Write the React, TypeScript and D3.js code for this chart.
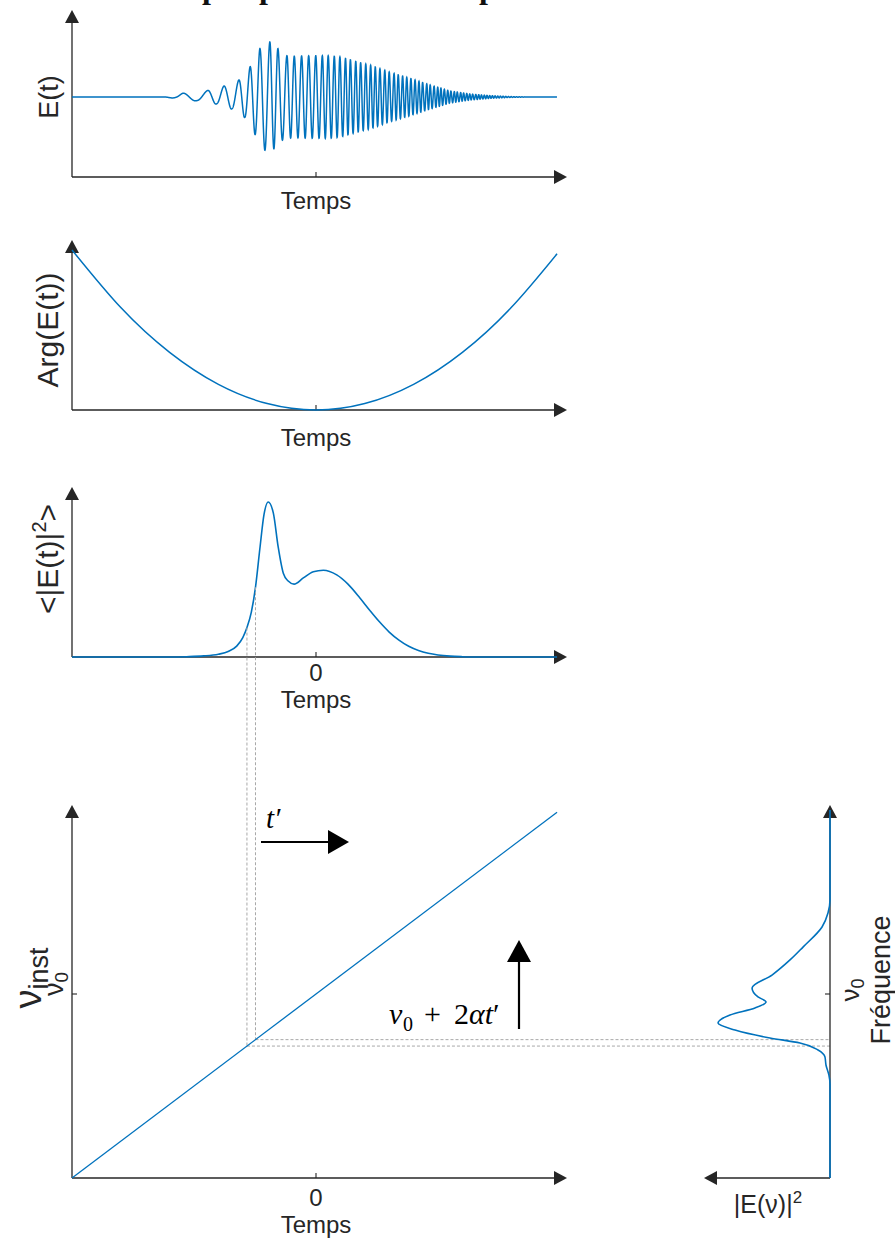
import React from 'react';
import * as d3 from 'd3';

// ---------- data ----------
// time axis unit: arbitrary, 0 at the central tick
const crestT = [-54.5, -44.3, -37.7, -31.6, -27.0, -23.0, -18.9, -15.6, -11.9, -8.9, -5.9, -3.0, -0.1, 2.6, 5.0, 7.5, 9.8, 12.1, 14.1, 16.3, 18.3, 20.4, 22.4, 24.3, 26.2, 28.2, 30.0, 32.0, 33.7, 35.5, 37.2, 38.9, 40.6, 42.2, 43.7, 45.4, 46.8, 48.4, 49.9, 51.2, 52.6, 54.0, 55.3, 56.7, 57.9, 59.3, 60.5, 61.8, 63.0, 64.2, 65.5, 66.7, 67.8, 69.0, 70.1, 71.2, 72.3, 73.4];
const envT = [-100, -62, -57, -54.5, -48.8, -44.3, -40.6, -37.7, -34.4, -31.6, -29.1, -27, -24.6, -23, -20.9, -18.9, -17.2, -15.6, -13.9, -11.9, -8.6, -2.5, 5.7, 9.8, 16.8, 22.1, 30.3, 38.5, 46.7, 54.9, 63.1, 71.3, 79.5, 88, 98.8];
const envA = [0, 0, 0.03, 0.07, 0.07, 0.12, 0.13, 0.2, 0.22, 0.31, 0.38, 0.55, 0.71, 0.88, 0.97, 1.0, 0.94, 0.88, 0.79, 0.75, 0.74, 0.75, 0.75, 0.73, 0.64, 0.58, 0.45, 0.34, 0.22, 0.11, 0.055, 0.025, 0.008, 0, 0];

const argT = [-100, -80, -60, -40, -20, 0, 20, 40, 60, 80, 98.8];
const argV = [1, 0.64, 0.36, 0.16, 0.04, 0, 0.04, 0.16, 0.36, 0.64, 0.976];

const intT = [-100, -60, -53, -46, -40, -36, -32.5, -30, -28.3, -26.5, -24.8, -23, -21.3, -19.6, -17.5, -15.5, -13.4, -11.4, -9, -5.2, -1.1, 3, 8.5, 13, 18, 22, 26, 30, 34, 38, 42, 46, 50, 55, 60, 66, 98.8];
const intV = [0, 0, 0.002, 0.007, 0.018, 0.035, 0.07, 0.125, 0.19, 0.29, 0.45, 0.7, 0.92, 1.0, 0.93, 0.71, 0.54, 0.49, 0.47, 0.51, 0.55, 0.56, 0.53, 0.472, 0.381, 0.302, 0.227, 0.161, 0.109, 0.069, 0.042, 0.024, 0.013, 0.0055, 0.002, 0, 0];

const chirpT = [-100, 98.8];
const chirpNu = [-1, 0.988];

const specNu = [1.0, 0.511, 0.44, 0.364, 0.255, 0.185, 0.103, 0.033, -0.016, -0.043, -0.076, -0.114, -0.158, -0.196, -0.239, -0.266, -0.304, -0.342, -0.386, -0.44, -0.49, -1.0];
const specP = [0, 0, 0.018, 0.071, 0.241, 0.357, 0.518, 0.696, 0.643, 0.571, 0.67, 0.893, 1.0, 0.848, 0.536, 0.268, 0.107, 0.045, 0.036, 0.01, 0, 0];

const markT = [-28.3, -24.8];

const timeTickValues = [0];
const timeTickLabels = ['0'];
const xLabel = 'Temps';

// ---------- styling ----------
const AX = '#262626';
const BLUE = '#0072BD';
const SANS = '"Liberation Sans", Arial, Helvetica, sans-serif';
const SERIF = '"Liberation Serif", "DejaVu Serif", serif';

const x = d3.scaleLinear().domain([-100, 100]).range([72, 560]);
const X0 = 72;
const XTIP = 567;

const y1 = d3.scaleLinear().domain([-1, 1]).range([152, 42]);
const y2 = d3.scaleLinear().domain([0, 1]).range([410, 250]);
const y3 = d3.scaleLinear().domain([0, 1]).range([657, 502]);
const yNu = d3.scaleLinear().domain([-1, 1]).range([1178, 810]);
const xP = d3.scaleLinear().domain([0, 1]).range([830, 718]);

const envF = d3.scaleLinear().domain(envT).range(envA).clamp(true);
const phaseF = d3.scaleLinear().domain(crestT).range(crestT.map((_, i) => i));
const intF = d3.scaleLinear().domain(intT).range(intV).clamp(true);
const chirpF = d3.scaleLinear().domain(chirpT).range(chirpNu);

function Axes({ axisY, top, tick = true }: { axisY: number; top: number; tick?: boolean }) {
  return (
    <g>
      <line x1={X0} y1={axisY} x2={X0} y2={top + 10} stroke={AX} strokeWidth={1.3} />
      <polygon points={`${X0},${top} ${X0 - 7},${top + 13} ${X0 + 7},${top + 13}`} fill={AX} />
      <line x1={X0} y1={axisY} x2={XTIP - 10} y2={axisY} stroke={AX} strokeWidth={1.3} />
      <polygon points={`${XTIP},${axisY} ${XTIP - 13},${axisY - 7} ${XTIP - 13},${axisY + 7}`} fill={AX} />
      {tick && timeTickValues.map((v) => (
        <line key={v} x1={x(v)} x2={x(v)} y1={axisY} y2={axisY - 5} stroke={AX} strokeWidth={1.1} />
      ))}
    </g>
  );
}

function RotLabel({ cx, cy, children, size = 25 }: any) {
  return (
    <text transform={`translate(${cx},${cy}) rotate(-90)`} textAnchor="middle" fontFamily={SANS} fontSize={size} fill={AX}>
      {children}
    </text>
  );
}

export default function App() {
  const samples: number[] = d3.range(-100, 98.8, 0.04);
  const wave = d3.line<number>().x((t) => x(t)).y((t) => y1(envF(t) * Math.cos(2 * Math.PI * phaseF(t))))(samples) as string;

  const argPath = d3.line<number>().x((_, i) => x(argT[i])).y((v) => y2(v)).curve(d3.curveNatural)(argV) as string;
  const intPath = d3.line<number>().x((_, i) => x(intT[i])).y((v) => y3(v)).curve(d3.curveMonotoneX)(intV) as string;
  const chirpPath = d3.line<number>().x((_, i) => x(chirpT[i])).y((v) => yNu(v))(chirpNu) as string;
  const specPath = d3.line<number>().x((p) => xP(p)).y((_, i) => yNu(specNu[i])).curve(d3.curveMonotoneY)(specP) as string;

  return (
    <svg width={895} height={1240} style={{ position: 'absolute', left: 0, top: 0, background: '#fff' }} xmlns="http://www.w3.org/2000/svg">
      {/* cut-off caption descenders at the very top */}
      <g fontFamily={SERIF} fontWeight="bold" fontSize={32} fill="#111">
        <text x={202} y={-2}>p</text>
        <text x={259} y={-2}>p</text>
        <text x={479} y={-2}>p</text>
      </g>

      {/* Panel 1: E(t) */}
      <Axes axisY={177} top={10} />
      <path d={wave} fill="none" stroke={BLUE} strokeWidth={1.5} />
      <text x={x(0)} y={209} textAnchor="middle" fontFamily={SANS} fontSize={24} fill={AX}>{xLabel}</text>
      <RotLabel cx={58} cy={97} size={27}>E(t)</RotLabel>

      {/* Panel 2: Arg(E(t)) */}
      <Axes axisY={410} top={240} />
      <path d={argPath} fill="none" stroke={BLUE} strokeWidth={1.5} />
      <text x={x(0)} y={446} textAnchor="middle" fontFamily={SANS} fontSize={24} fill={AX}>{xLabel}</text>
      <RotLabel cx={58} cy={330} size={30}>Arg(E(t))</RotLabel>

      {/* Panel 3: intensity */}
      <Axes axisY={657} top={487} />
      <path d={intPath} fill="none" stroke={BLUE} strokeWidth={1.6} />
      {timeTickValues.map((v, i) => (
        <text key={v} x={x(v)} y={681} textAnchor="middle" fontFamily={SANS} fontSize={24} fill={AX}>{timeTickLabels[i]}</text>
      ))}
      <text x={x(0)} y={708} textAnchor="middle" fontFamily={SANS} fontSize={24} fill={AX}>{xLabel}</text>
      <RotLabel cx={58} cy={559} size={30}>
        {'<|E(t)|'}
        <tspan fontSize={20} dy={-12}>2</tspan>
        <tspan dy={12}>{'>'}</tspan>
      </RotLabel>

      {/* dashed guides */}
      {markT.map((t) => (
        <g key={t} stroke="#a8a8a8" strokeWidth={1} strokeDasharray="3,2" fill="none">
          <line x1={x(t)} x2={x(t)} y1={y3(intF(t))} y2={yNu(chirpF(t))} />
          <line x1={x(t)} x2={830} y1={yNu(chirpF(t))} y2={yNu(chirpF(t))} />
        </g>
      ))}

      {/* Panel 4: instantaneous frequency */}
      <Axes axisY={1178} top={805} />
      <line x1={X0} x2={X0 + 5} y1={yNu(0)} y2={yNu(0)} stroke={AX} strokeWidth={1.1} />
      <path d={chirpPath} fill="none" stroke={BLUE} strokeWidth={1.3} />
      {timeTickValues.map((v, i) => (
        <text key={v} x={x(v)} y={1206} textAnchor="middle" fontFamily={SANS} fontSize={24} fill={AX}>{timeTickLabels[i]}</text>
      ))}
      <text x={x(0)} y={1233} textAnchor="middle" fontFamily={SANS} fontSize={24} fill={AX}>{xLabel}</text>
      <text transform={`translate(63,${yNu(0) - 10}) rotate(-90)`} textAnchor="middle" fontFamily={SANS} fontSize={27} fill={AX}>
        ν<tspan fontSize={19} dy={5}>0</tspan>
      </text>
      <text transform={`translate(41,978) rotate(-90)`} textAnchor="middle" fontFamily={SANS} fontSize={38} fill={AX}>
        ν<tspan fontSize={27} dy={7}>inst</tspan>
      </text>

      {/* t' arrow */}
      <text x={266} y={828} fontFamily={SERIF} fontStyle="italic" fontSize={29} fill="#000">t′</text>
      <line x1={261} x2={330} y1={842} y2={842} stroke="#000" strokeWidth={2.2} />
      <polygon points="328,830 349,842 328,854" fill="#000" />

      {/* nu0 + 2 alpha t' arrow */}
      <g fontFamily={SERIF} fontSize={30} fill="#000">
        <text x={389} y={1024} fontStyle="italic">ν</text>
        <text x={403} y={1031} fontSize={20}>0</text>
        <text x={424} y={1024}>+</text>
        <text x={454} y={1024}>2<tspan fontStyle="italic">αt</tspan>′</text>
      </g>
      <line x1={519} x2={519} y1={1029} y2={960} stroke="#000" strokeWidth={2.2} />
      <polygon points="507,962 519,940 531,962" fill="#000" />

      {/* Right panel: spectrum */}
      <line x1={830} x2={830} y1={1178} y2={815} stroke={AX} strokeWidth={1.3} />
      <polygon points="830,805 823,818 837,818" fill={AX} />
      <line x1={830} x2={715} y1={1178} y2={1178} stroke={AX} strokeWidth={1.3} />
      <polygon points="704,1178 717,1171 717,1185" fill={AX} />
      <line x1={830} x2={825} y1={yNu(0)} y2={yNu(0)} stroke={AX} strokeWidth={1.1} />
      <path d={specPath} fill="none" stroke={BLUE} strokeWidth={1.6} />
      <text transform={`translate(859,${yNu(0) - 4}) rotate(-90)`} textAnchor="middle" fontFamily={SANS} fontSize={26} fill={AX}>
        ν<tspan fontSize={18} dy={5}>0</tspan>
      </text>
      <RotLabel cx={890} cy={980} size={27}>Fréquence</RotLabel>
      <text x={768} y={1213} textAnchor="middle" fontFamily={SANS} fontSize={25} fill={AX}>
        |E(ν)|<tspan fontSize={17} dy={-10}>2</tspan>
      </text>
    </svg>
  );
}
